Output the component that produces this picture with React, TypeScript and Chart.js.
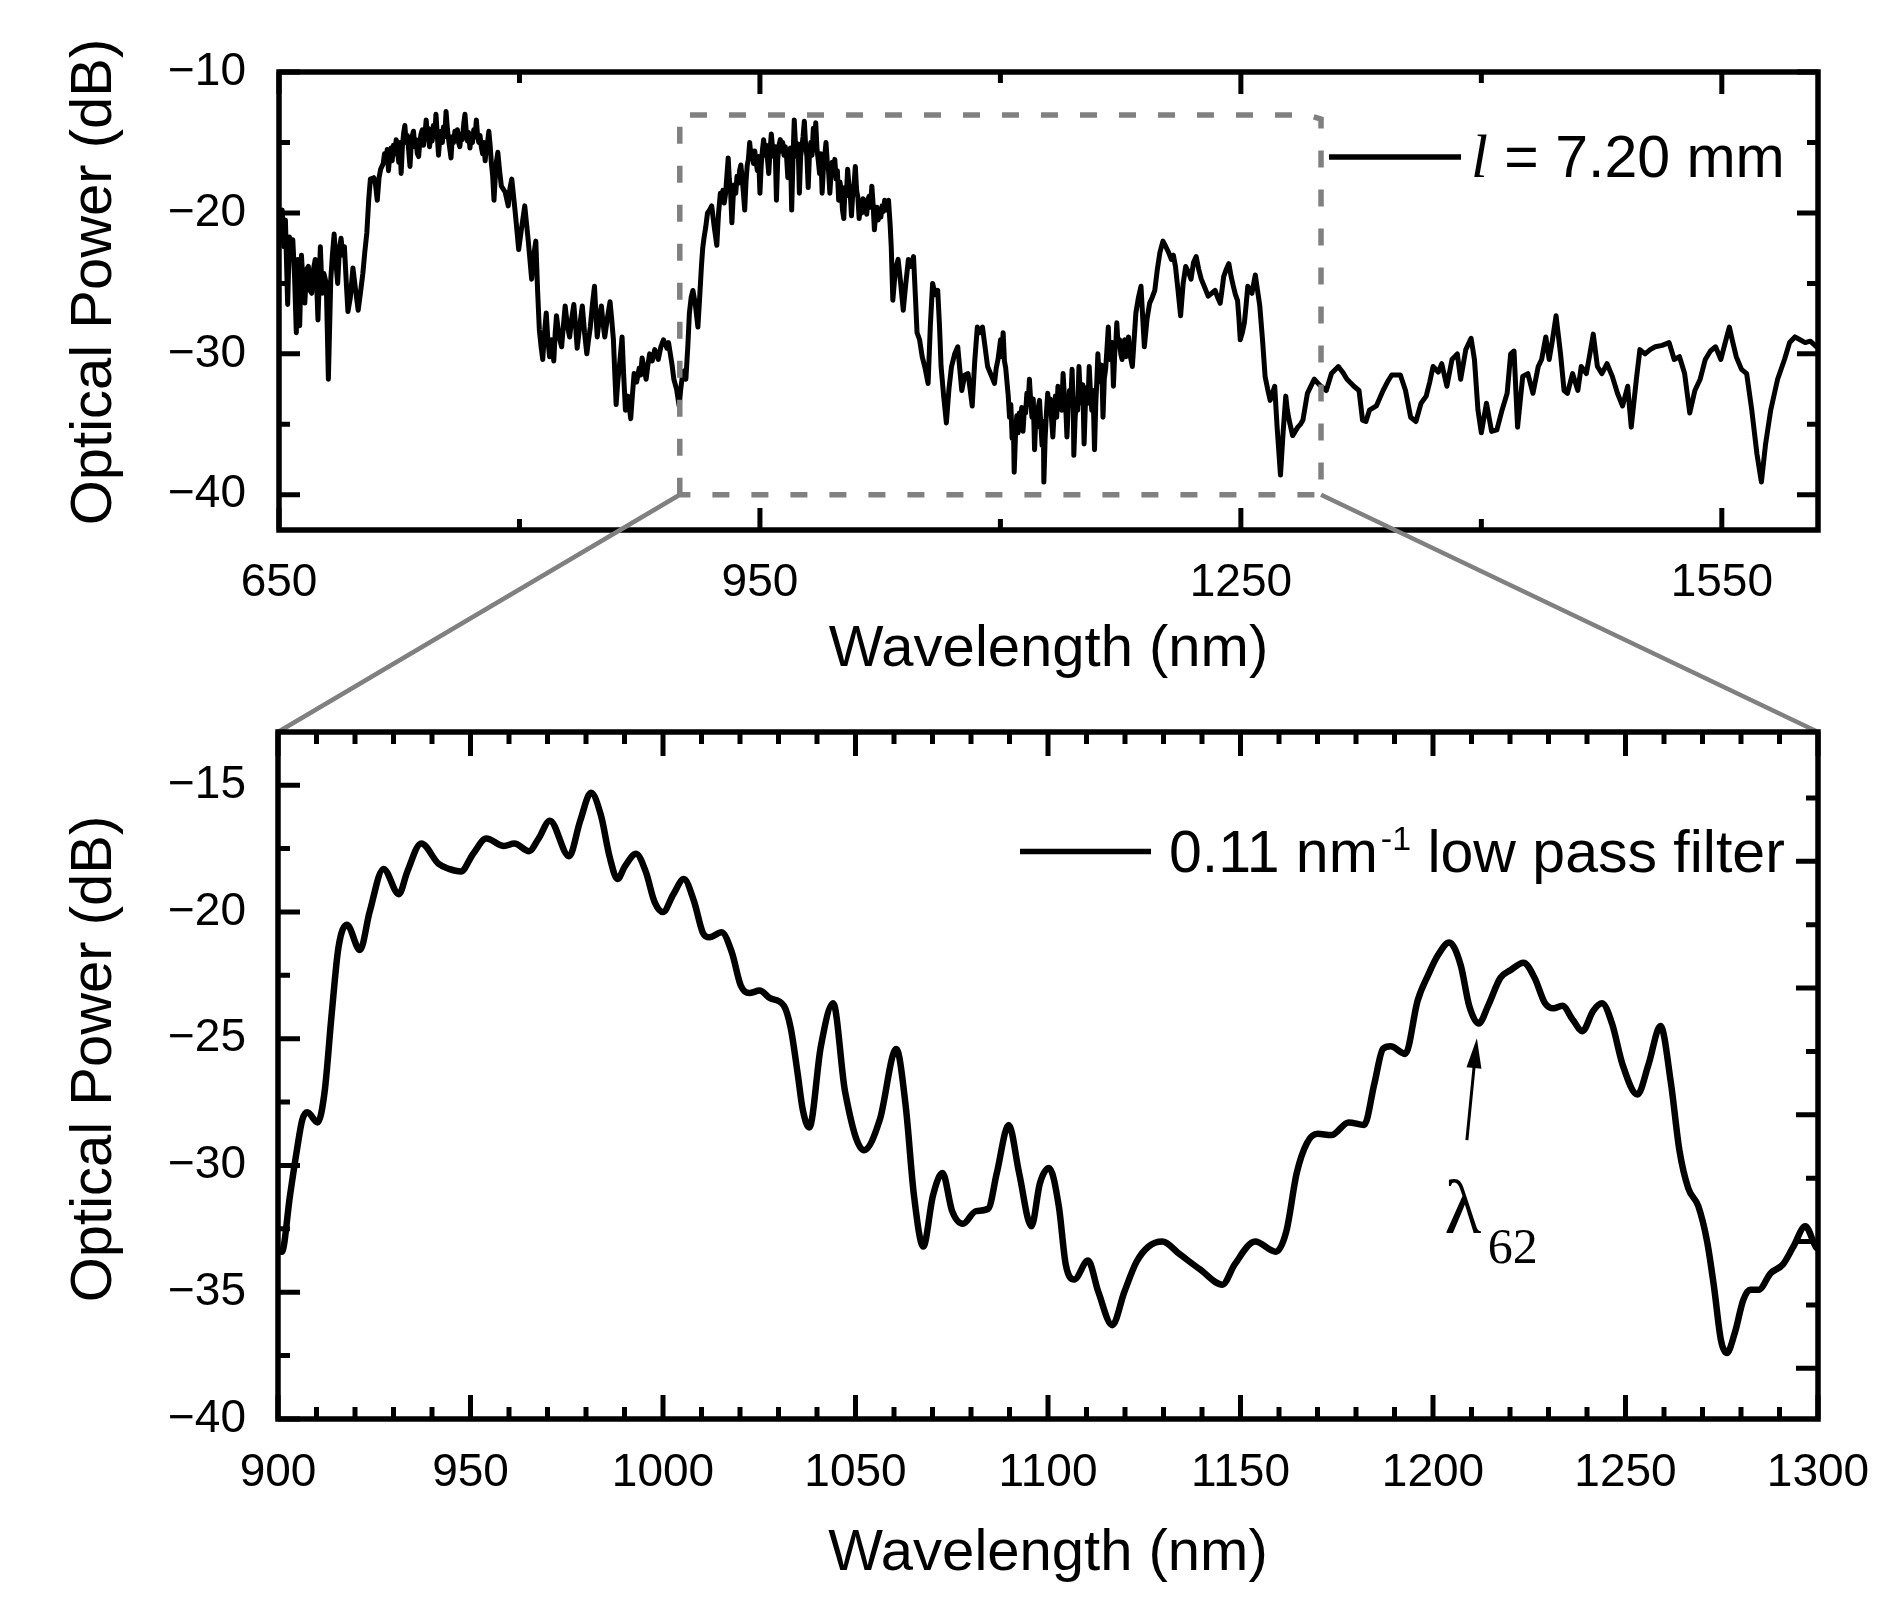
import React, { useEffect, useRef } from 'react';
import { Chart, registerables } from 'chart.js';

Chart.register(...registerables);

// ---------------- data ----------------
// Raw spectrum, l = 7.20 mm  [wavelength nm, optical power dB]
const overviewSpectrum: [number, number][] = [
  [650, -20.0], [651, -21.5], [652, -19.8], [653, -22.4], [654, -20.5], [655.4, -26.5], [656.5, -21.7], [657.5, -23.0],
  [658.6, -21.9], [659.7, -24.5], [660.8, -28.5], [661.8, -23.3], [662.9, -28.0], [664, -23.0], [665, -25.0], [666.1, -26.4],
  [667.2, -24.0], [668.3, -23.8], [669.3, -25.5], [670.4, -25.7], [671.5, -24.0], [672.6, -23.3], [673.5, -25.0], [674.3, -27.6],
  [675.8, -22.4], [676.9, -25.7], [678, -24.3], [679.5, -25.0], [680.8, -31.8], [682.3, -24.7], [683.3, -23.0], [684.4, -21.5],
  [685.5, -23.5], [686.6, -25.0], [687.7, -22.5], [688.7, -21.8], [689.8, -23.0], [690.8, -22.4], [692, -25.0], [693, -27.0],
  [694.5, -26.0], [696.1, -23.9], [697.8, -25.5], [699.4, -26.9], [701, -25.5], [702.3, -24.3], [703.5, -22.8], [704.8, -21.4],
  [706, -19.0], [707, -17.6], [709.1, -17.5], [710.2, -18.0], [711.3, -19.1], [712.4, -17.5], [713.4, -16.9],
  [715, -16.5], [715.8, -15.8], [716.7, -16.2], [717.5, -15.5], [718.3, -17.0], [719, -16.0], [719.8, -15.4], [720.6, -16.3],
  [721.4, -15.2], [722.2, -15.8], [723.1, -14.8], [723.9, -15.6], [724.7, -16.4], [725.5, -15.0], [726.2, -17.2], [727, -15.2],
  [727.8, -14.3], [728.5, -13.8], [729.3, -15.0], [730.1, -14.5], [730.9, -15.6], [731.7, -16.7], [732.5, -15.1], [733.2, -14.5],
  [733.9, -14.2], [734.7, -15.3], [735.5, -14.8], [736.3, -15.8], [737.1, -16.0], [737.9, -14.9], [738.6, -14.4], [739.4, -14.1],
  [740.2, -15.2], [741, -14.5], [741.8, -13.4], [742.6, -14.6], [743.3, -14.0], [743.9, -15.3], [744.7, -14.4], [745.5, -14.9],
  [746.3, -13.8], [747.1, -14.6], [747.9, -13.0], [748.7, -14.4], [749.5, -15.9], [750.3, -14.7], [751.1, -14.2], [751.9, -15.0],
  [752.6, -13.9], [753.4, -14.6], [754.2, -12.8], [755, -14.0], [755.8, -14.8], [756.6, -15.5], [757.3, -16.1], [758.1, -14.6],
  [758.9, -15.0], [759.7, -14.2], [760.5, -14.8], [761.3, -14.1], [762, -15.0], [762.8, -15.3], [763.6, -14.4], [764.4, -14.8],
  [765.2, -13.7], [766, -13.0], [766.8, -14.2], [767.6, -14.9], [768.3, -14.3], [769.1, -15.4], [769.9, -14.6], [770.7, -15.0],
  [771.5, -14.1], [772.3, -14.6], [773.1, -13.4], [773.8, -14.4], [774.6, -15.0], [775.4, -14.5], [776.2, -15.3], [777, -15.8],
  [777.8, -15.0], [778.6, -16.3], [779.3, -15.4], [780.1, -15.0], [780.9, -14.2], [781.7, -15.2], [782.5, -16.5], [783.3, -17.4],
  [784.1, -19.1], [784.9, -17.5], [785.7, -16.3], [786.5, -15.7],
  [787.6, -17.0], [788.7, -18.1], [791, -18.5], [793, -19.5],
  [794, -18.3], [795.2, -17.6], [797.4, -20.0], [799.5, -22.6], [801.4, -21.0], [803.3, -19.5], [805.5, -22.0], [807.6, -24.7],
  [808.9, -23.0], [810.2, -22.0], [811.3, -25.5], [812.4, -28.3], [813.5, -29.5], [814.5, -30.4], [815.6, -28.5], [816.7, -27.1],
  [817.7, -29.0], [818.8, -30.2], [820, -29.0], [821.4, -30.5], [822.3, -28.5], [823.1, -27.3], [824.7, -28.8], [826.3, -29.5],
  [827.4, -28.0], [828.5, -26.6], [829.9, -28.0], [831.3, -28.8], [832.6, -27.5], [833.9, -26.5], [835, -28.0], [836, -29.6],
  [837.6, -28.0], [839.2, -26.6], [840.6, -28.5], [842, -30.0], [843.1, -29.0], [844.2, -28.1], [845.5, -26.5], [846.8, -25.2],
  [847.6, -27.0], [848.5, -28.8], [849.8, -27.5], [851.1, -26.6], [852.1, -27.8], [853.2, -28.8], [854.8, -27.5], [856.5, -26.3],
  [857.5, -27.5], [858.6, -29.0], [859.5, -31.5], [860.3, -33.6], [861.3, -32.0], [862.3, -30.9], [863.2, -29.8], [864, -28.8],
  [865, -31.5], [866.1, -34.0], [867.7, -33.0], [869.4, -34.6], [870.4, -33.0], [871.5, -31.4], [873.1, -32.0], [874.7, -31.0],
  [875.6, -31.5], [876.5, -30.3], [877.7, -31.0], [879, -31.8], [880.1, -30.8], [881.2, -30.0], [882.8, -30.5], [884.4, -29.7],
  [885.5, -30.0], [886.6, -30.4], [888.2, -29.5], [889.8, -29.0], [890.9, -29.3], [892, -29.6], [893, -29.2], [894.1, -30.0],
  [895.2, -30.8], [896.3, -31.8], [898, -32.5], [899.6, -33.7], [900.6, -32.5], [901.7, -31.5], [902.8, -31.2], [903.8, -31.8],
  [905, -29.5], [906, -27.1], [907.1, -26.0], [908.2, -25.5], [909.7, -26.5], [911.3, -28.1], [912.4, -26.0], [913.5, -23.8],
  [914.3, -22.5], [915.2, -21.7], [916.2, -21.0], [917.3, -20.0], [918.6, -19.8], [919.9, -19.5], [921.5, -21.0], [923.1, -22.3],
  [924.2, -20.0],
  [925.3, -18.6], [926.1, -19.2], [926.9, -18.4], [927.7, -19.3], [928.5, -18.7], [929.3, -17.5], [930.2, -16.1], [930.9, -17.6],
  [931.7, -18.5], [932.5, -20.7], [933.3, -18.9], [934.1, -18.0], [934.9, -18.6], [935.7, -17.4], [936.5, -17.9], [937.3, -17.0],
  [938.1, -16.6], [938.9, -17.5], [939.7, -18.6], [940.5, -19.8], [941.3, -17.8], [942.1, -16.6], [942.8, -16.2], [943.6, -15.0],
  [944.4, -16.0], [945.2, -15.6], [946, -16.5], [946.8, -15.6], [947.6, -16.4], [948.4, -17.0], [949.2, -16.0], [950, -18.6],
  [950.8, -16.6], [951.5, -15.6], [952.3, -14.8], [953.1, -15.9], [953.9, -15.2], [954.7, -16.2], [955.5, -17.2], [956.3, -15.6],
  [957.1, -14.4], [957.9, -15.4], [958.7, -16.0], [959.5, -15.3], [960.3, -19.1], [961.1, -16.2], [961.9, -15.2], [962.7, -14.8],
  [963.5, -15.6], [964.2, -15.0], [965, -15.9], [965.8, -15.3], [966.6, -16.0], [967.4, -17.5], [968.2, -16.0], [969, -15.4],
  [969.8, -19.8], [970.6, -16.2], [971.4, -13.4], [972.2, -15.2], [973, -16.0], [973.8, -15.1], [974.6, -18.6], [975.4, -16.0],
  [976.1, -15.3], [976.9, -14.6], [977.7, -13.5], [978.5, -15.2], [979.3, -16.0], [980.1, -18.2], [980.9, -15.8], [981.7, -15.0],
  [982.5, -15.9], [983.3, -14.0], [984.1, -15.4], [984.8, -13.6], [985.6, -15.5], [986.4, -16.3], [987.2, -17.2], [988, -15.8],
  [988.8, -18.6], [989.6, -16.8], [990.4, -16.0], [991.2, -15.0], [992, -16.4], [992.8, -17.0], [993.6, -18.6], [994.4, -17.2],
  [995.1, -16.4], [995.9, -17.3], [996.7, -16.2], [997.5, -17.6], [998.3, -17.0], [999.1, -19.1], [999.9, -17.8], [1000.7, -18.4],
  [1001.5, -19.8], [1002.3, -20.4], [1003.1, -18.2], [1003.9, -18.8], [1004.7, -16.9], [1005.5, -18.0], [1006.3, -18.6], [1007.1, -20.2],
  [1007.9, -18.6], [1008.7, -18.0], [1009.5, -16.7], [1010.3, -18.4], [1011.1, -18.9], [1011.9, -20.4], [1012.7, -19.3], [1013.5, -20.0],
  [1014.3, -19.0], [1015, -19.8], [1015.8, -19.2], [1016.6, -20.1], [1017.4, -19.0], [1018.2, -18.8], [1019, -19.6], [1019.8, -18.1],
  [1020.6, -19.4], [1021.4, -21.2], [1022.2, -20.1], [1023, -19.6], [1023.8, -20.5], [1024.6, -19.8], [1025.4, -20.3], [1026.2, -19.5],
  [1027, -19.9], [1027.8, -19.1], [1028.6, -19.8], [1029.4, -19.3], [1030.2, -19.1],
  [1031.2, -20.8], [1031.9, -22.4], [1032.9, -26.2],
  [1034.5, -24.0], [1036.2, -23.3], [1037.8, -25.0], [1039.4, -26.9], [1041, -25.0], [1042.6, -23.3], [1044.2, -23.8], [1045.8, -23.1],
  [1047, -26.0], [1048, -28.5], [1049.6, -29.0], [1051.2, -30.2], [1053, -31.0], [1054.9, -32.1], [1056.3, -28.0], [1057.7, -25.0],
  [1059.3, -25.8], [1060.9, -25.5], [1062, -28.0], [1063, -30.9], [1064.6, -33.0], [1066.3, -34.9], [1067.9, -32.5], [1069.5, -30.9],
  [1071.5, -30.0], [1073.4, -29.5], [1074.6, -31.0], [1075.9, -32.6], [1077.8, -31.5], [1079.8, -31.4], [1081.1, -32.5], [1082.4, -33.7],
  [1084, -30.5], [1085.6, -28.1], [1087.2, -28.5], [1088.8, -28.1], [1090.4, -29.5], [1092, -30.9], [1094.2, -31.5], [1096.3, -32.1],
  [1097.4, -31.0], [1098.5, -30.4],
  [1100.1, -29.0], [1100.9, -30.2], [1101.7, -28.5], [1102.5, -30.5], [1103.3, -31.0], [1104.1, -32.0], [1104.9, -33.0], [1105.7, -34.5],
  [1106.5, -33.6], [1107.3, -36.0], [1108.1, -35.0], [1108.6, -38.4], [1109.4, -35.8], [1110.2, -34.4], [1111, -35.6], [1111.8, -34.2],
  [1112.5, -34.7], [1113.3, -33.8], [1114.1, -35.5], [1114.9, -34.0], [1115.7, -34.2], [1116.5, -32.8], [1117.3, -33.6], [1118.1, -31.8],
  [1118.9, -33.4], [1119.7, -34.5], [1120.5, -33.2], [1121.3, -36.8], [1122.1, -34.6], [1122.9, -35.2], [1123.6, -33.8], [1124.4, -33.3],
  [1125.2, -35.0], [1126, -36.5], [1126.8, -34.8], [1127.1, -39.1], [1127.9, -36.0], [1128.7, -34.2], [1129.5, -32.8], [1130.3, -34.0],
  [1131.1, -33.2], [1131.9, -34.6], [1132.7, -35.9], [1133.5, -34.2], [1134.3, -33.0], [1135.1, -34.5], [1135.9, -32.3], [1136.7, -33.8],
  [1137.5, -33.0], [1138.3, -34.0], [1139.1, -31.4], [1139.9, -33.0], [1140.7, -33.6], [1141.5, -35.9], [1142.3, -33.8], [1143.1, -32.6],
  [1143.9, -33.5], [1144.7, -31.1], [1145.5, -34.0], [1145.8, -37.2], [1146.6, -34.6], [1147.4, -33.2], [1148.2, -34.0], [1149, -30.9],
  [1149.8, -32.8], [1150.6, -33.5], [1151.4, -32.2], [1152.2, -36.4], [1153, -33.6], [1153.8, -32.4], [1154.6, -33.5], [1155.4, -30.9],
  [1156.2, -32.8], [1157, -34.0], [1157.8, -32.6], [1158.7, -36.8], [1159.5, -33.5], [1160.2, -31.8], [1160.8, -30.0], [1161.6, -31.6],
  [1162.4, -32.0], [1163.2, -30.8], [1164, -34.5], [1164.8, -31.8], [1165.7, -31.0], [1166.5, -29.6], [1167.3, -28.1], [1168.1, -30.4],
  [1168.9, -30.0], [1169.7, -29.2], [1170.5, -32.3], [1171.3, -30.0], [1172.1, -29.0], [1172.6, -27.8], [1173.4, -29.4], [1174.3, -29.0],
  [1175.1, -30.0], [1175.9, -30.4], [1176.7, -29.2], [1177.5, -29.0], [1178.3, -30.2], [1179.1, -29.5], [1179.9, -28.8], [1180.7, -30.0],
  [1182.3, -30.9], [1183.4, -29.0], [1184.5, -27.1], [1186.1, -26.0], [1187.7, -25.2], [1188.8, -27.5], [1189.8, -29.5], [1191.5, -27.5],
  [1193.1, -26.4], [1194.7, -26.0], [1196.3, -25.5], [1197.9, -24.0], [1199.5, -22.8], [1201.4, -22.0], [1203.2, -22.4], [1204.9, -22.8],
  [1206.6, -23.3], [1207.9, -23.0], [1209.2, -23.8], [1210.8, -25.5], [1212.4, -27.3], [1214, -25.0], [1215.6, -23.8], [1217.3, -24.2],
  [1218.9, -24.7], [1220.5, -23.5], [1222.1, -23.1], [1223.7, -24.0], [1225.3, -24.7], [1227.5, -25.3], [1229.6, -25.9], [1231.8, -25.7],
  [1233.9, -25.5], [1235.5, -26.0], [1237.1, -26.4], [1238.2, -25.5], [1239.3, -24.5], [1240.9, -24.0], [1242.5, -23.6], [1243.9, -24.5],
  [1245.3, -25.2], [1246.6, -25.8], [1247.9, -26.2], [1248.8, -27.5], [1249.6, -29.0], [1250.9, -28.5], [1252.2, -27.8], [1253.3, -26.5],
  [1254.3, -25.2], [1255.6, -25.5], [1256.9, -25.7], [1258, -25.0], [1259, -24.4], [1260.4, -25.5], [1261.8, -26.6], [1263.5, -29.0],
  [1265.1, -31.6], [1266.7, -32.5], [1268.3, -33.3], [1269.7, -32.8], [1271.1, -32.3], [1272.6, -35.2], [1274.7, -38.6], [1276.4, -35.5],
  [1278, -33.0], [1279, -34.0], [1280.1, -34.7], [1282.3, -35.8], [1283.9, -35.5], [1285.5, -35.2], [1287.2, -35.0], [1288.7, -34.7],
  [1291.5, -32.8], [1295.8, -31.8], [1299, -32.2], [1303.3, -32.6], [1306.5, -31.4], [1310.8, -30.9], [1313.5, -31.3], [1316.2, -31.8],
  [1320.5, -32.3], [1323.7, -32.6], [1325.9, -34.7], [1328, -34.8], [1330.2, -34.0], [1334.5, -33.7], [1338.7, -32.6], [1341.4, -32.0],
  [1344.1, -31.5], [1349.5, -31.5], [1352.7, -32.6], [1355.9, -34.5], [1359.2, -34.8], [1362.4, -33.5], [1365.6, -33.0], [1367.8, -32.0],
  [1369.9, -30.9], [1373.1, -31.3], [1375.3, -30.7], [1378.5, -32.3], [1381.7, -30.4], [1385, -30.0], [1387.1, -31.8], [1390.3, -29.7],
  [1393.6, -28.9], [1395.7, -30.4], [1397.9, -34.0], [1400, -35.6], [1403.2, -33.5], [1406.4, -35.5], [1409.7, -35.4], [1412.9, -34.0],
  [1416.1, -32.8], [1418.3, -30.0], [1420.4, -29.8], [1422.6, -35.2], [1425.8, -31.6], [1429, -31.4], [1432.2, -32.8], [1435.5, -30.9],
  [1437.6, -30.4], [1440.2, -28.8], [1442.3, -30.4], [1444.1, -29.2], [1446.6, -27.3], [1449.4, -30.0], [1451.6, -32.6], [1453.7, -32.8],
  [1456.9, -31.4], [1460.2, -32.6], [1462.3, -30.9], [1465.5, -31.4], [1467.7, -30.0], [1469.8, -28.6], [1472.4, -30.9], [1475.2, -31.4],
  [1478.4, -30.7], [1481.7, -31.6], [1484.9, -32.8], [1488.1, -33.7], [1491.3, -32.3], [1493.5, -35.2], [1496.7, -31.8], [1498.9, -29.7],
  [1502.1, -30.0], [1505.3, -29.7], [1508.5, -29.5], [1512.8, -29.4], [1517.1, -29.2], [1520.3, -30.4], [1523.6, -30.2], [1526.8, -31.4],
  [1530, -34.2], [1533.2, -32.6], [1536.5, -31.8], [1539.7, -30.4], [1542.9, -29.8], [1546.1, -29.5], [1549.4, -30.4], [1552.6, -29.0],
  [1554.7, -28.1], [1556.9, -29.2], [1559, -30.2], [1562.3, -31.1], [1565.5, -31.4], [1568.7, -34.0], [1571.9, -37.1], [1574.7, -39.1],
  [1577.3, -36.4], [1580.5, -34.0], [1584.8, -31.8], [1589.1, -30.4], [1592.3, -29.2], [1595.6, -28.8], [1598.8, -29.0], [1602, -29.2],
  [1605.2, -29.1], [1609.1, -29.5], [1610, -29.5],
];

// 0.11 nm^-1 low pass filtered spectrum  [wavelength nm, optical power dB]
const filteredSpectrum: [number, number][] = [
  [900, -33.3], [901, -33.4], [903.1, -31.2], [904.9, -29.4], [906.3, -28.2], [907.6, -27.9], [910.3, -28.3], [912.1, -27.1],
  [913.9, -24.1], [915.7, -21.4], [917.9, -20.5], [921.3, -21.5], [923.8, -20.0], [927.4, -18.3], [931.4, -19.3], [933.6, -18.4],
  [937.2, -17.3], [941.7, -18.1], [944.4, -18.3], [947.5, -18.4], [950.7, -17.7], [954.1, -17.1], [958.7, -17.4], [961.4, -17.3],
  [965.2, -17.6], [967.7, -17.1], [970.6, -16.4], [975.6, -17.8], [978.5, -16.4], [981.3, -15.3], [983.9, -16.2], [986.1, -17.8],
  [988.2, -18.7], [990.1, -18.2], [993.0, -17.7], [995.5, -18.4], [997.8, -19.6], [1000, -20.0], [1002.7, -19.3], [1005.4, -18.7],
  [1008.1, -19.6], [1010.3, -20.8], [1012.1, -21.0], [1015.2, -20.8], [1017.9, -21.6], [1020.2, -22.9], [1022.4, -23.2], [1025.1, -23.1],
  [1027.8, -23.4], [1031.4, -23.7], [1033.2, -24.6], [1035, -26.4], [1036.3, -27.8], [1038.0, -28.5], [1041, -25.3], [1044.2, -23.6],
  [1047.3, -27.1], [1052.2, -29.4], [1056.3, -28.2], [1060.6, -25.4], [1063, -27.6], [1065.2, -31.2], [1067.6, -33.2], [1070.1, -31.2],
  [1072.6, -30.3], [1075.1, -31.8], [1077.9, -32.3], [1081.3, -31.8], [1084.5, -31.7], [1086.7, -30.3], [1089.8, -28.4], [1092.5, -30.3],
  [1095.7, -32.4], [1097.9, -30.7], [1100.3, -30.1], [1102.8, -31.6], [1104.6, -33.9], [1106.8, -34.5], [1110.4, -33.75], [1113.1, -35.0],
  [1116.7, -36.3], [1119.8, -35.0], [1123, -33.8], [1126.1, -33.2], [1129.7, -33.0], [1134.2, -33.5], [1139.5, -34.1], [1145.3, -34.7],
  [1148.5, -33.9], [1153.8, -33.0], [1159.2, -33.4], [1161.9, -32.6], [1164.6, -30.3], [1167.3, -29.1], [1170, -28.75], [1173.6, -28.8],
  [1178.1, -28.3], [1182.1, -28.4], [1184.8, -26.75], [1187, -25.4], [1189, -25.3], [1192.8, -25.6], [1196, -23.5], [1198.7, -22.5],
  [1201.3, -21.7], [1204.2, -21.2], [1207.2, -22.1], [1209.4, -23.7], [1211.9, -24.4], [1214.3, -23.7], [1217.5, -22.6], [1220.1, -22.3],
  [1223.5, -22.0], [1226.4, -22.6], [1229.1, -23.6], [1231.3, -23.8], [1233.6, -23.7], [1236.3, -24.25], [1238.8, -24.7], [1241.6, -23.9],
  [1243.9, -23.6], [1246.5, -24.4], [1249.2, -26.0], [1253.1, -27.2], [1256, -26.0], [1259.1, -24.5], [1261.8, -26.75], [1264, -29.4],
  [1266.3, -30.9], [1268.9, -31.6], [1271.2, -33.0], [1273, -34.8], [1274.8, -36.9], [1276.3, -37.4], [1278.4, -36.6], [1280.6, -35.3],
  [1282.4, -34.9], [1284.6, -34.9], [1287.7, -34.25], [1290.9, -33.9], [1293.6, -33.2], [1296.7, -32.4], [1299.4, -33.2], [1300, -33.3],
];

// axes
const overviewRangeX = [650, 1610];
const overviewRangeY = [-42.5, -10];
const overviewXLabeled = [650, 950, 1250, 1550];
const overviewXMinor = [800, 1100, 1400];
const overviewYLabeled = [-10, -20, -30, -40];
const overviewYMinor = [-15, -25, -35];

const zoomRangeX = [900, 1300];
const zoomRangeY = [-40, -12.9];
const zoomXLabeled = [900, 950, 1000, 1050, 1100, 1150, 1200, 1250, 1300];
const zoomXMinor = [
  910, 920, 930, 940, 960, 970, 980, 990, 1010, 1020, 1030, 1040, 1060, 1070, 1080, 1090,
  1110, 1120, 1130, 1140, 1160, 1170, 1180, 1190, 1210, 1220, 1230, 1240, 1260, 1270, 1280, 1290,
];
const zoomYLabeled = [-15, -20, -25, -30, -35, -40];
const zoomYMinor = [-17.5, -22.5, -27.5, -32.5, -37.5];
const zoomYRightMajor = [-18, -23, -28, -33, -38];
const zoomYRightMinor = [-15.5, -20.5, -25.5, -30.5, -35.5];

// zoom window marked on the overview [x1, x2, yBottom, yTop]
const zoomWindow = [900, 1300, -40, -13.05];

// texts
const xTitle = 'Wavelength (nm)';
const yTitle = 'Optical Power (dB)';
const overviewLegendSymbol = 'l';
const overviewLegendText = ' = 7.20 mm';
const zoomLegendParts = ['0.11 nm', '-1', ' low pass filter'];
const modeLabel = ['\u03bb', '62'];
// arrow: [tail nm, tail dB, tip nm, tip dB]
const modeArrow = [1208.8, -29.0, 1211.4, -24.98];

// ---------------- helpers ----------------
const SANS = "'Liberation Sans', Arial, Helvetica, sans-serif";
const SERIF = "'Liberation Serif', 'Times New Roman', Times, serif";
const GRAY = '#808080';
const TICK_FONT = 46;

const TOP_CANVAS_Y = 0;
const TOP_CANVAS_H = 700;
const BOT_CANVAS_Y = 480;
const BOT_CANVAS_H = 1123;
const W = 1899;

Chart.defaults.font.family = SANS;

const fmt = (v: number) => (v < 0 ? '\u2212' + Math.abs(v) : String(v));

function frameTicksPlugin(id: string, spec: any) {
  return {
    id,
    afterDatasetsDraw(chart: any) {
      const { ctx, chartArea: a, scales } = chart;
      const x = scales.x;
      const y = scales.y;
      ctx.save();
      ctx.strokeStyle = '#000';
      ctx.lineCap = 'butt';
      ctx.lineWidth = 5;
      ctx.beginPath();
      const vx = (vals: number[], len: number) => {
        for (const v of vals) {
          const p = x.getPixelForValue(v);
          ctx.moveTo(p, a.bottom);
          ctx.lineTo(p, a.bottom - len);
          ctx.moveTo(p, a.top);
          ctx.lineTo(p, a.top + len);
        }
      };
      const hy = (vals: number[], len: number, left: boolean, right: boolean) => {
        for (const v of vals) {
          const p = y.getPixelForValue(v);
          if (left) {
            ctx.moveTo(a.left, p);
            ctx.lineTo(a.left + len, p);
          }
          if (right) {
            ctx.moveTo(a.right, p);
            ctx.lineTo(a.right - len, p);
          }
        }
      };
      vx(spec.xMajor, spec.xMajorLen);
      vx(spec.xMinor, spec.xMinorLen);
      hy(spec.yMajor, spec.yMajorLen, true, !spec.yRightMajor);
      hy(spec.yMinor, spec.yMinorLen, true, !spec.yRightMinor);
      if (spec.yRightMajor) hy(spec.yRightMajor, spec.yMajorLen, false, true);
      if (spec.yRightMinor) hy(spec.yRightMinor, spec.yMinorLen, false, true);
      ctx.stroke();
      ctx.lineWidth = 5.5;
      ctx.lineJoin = 'miter';
      ctx.strokeRect(a.left, a.top, a.right - a.left, a.bottom - a.top);
      ctx.restore();
    },
  };
}

function titlesPlugin(id: string, spec: any) {
  return {
    id,
    afterDraw(chart: any) {
      const { ctx, chartArea: a } = chart;
      ctx.save();
      ctx.fillStyle = '#000';
      ctx.font = `${spec.size}px ${SANS}`;
      ctx.textAlign = 'center';
      ctx.textBaseline = 'alphabetic';
      ctx.fillText(xTitle, (a.left + a.right) / 2, a.bottom + spec.xBaseline);
      ctx.translate(spec.yBaselineX, a.top + spec.yCenter);
      ctx.rotate(-Math.PI / 2);
      ctx.fillText(yTitle, 0, 0);
      ctx.restore();
    },
  };
}

const overviewDecor = {
  id: 'overviewDecor',
  afterDatasetsDraw(chart: any) {
    const { ctx, chartArea: a, scales } = chart;
    const x = scales.x;
    const y = scales.y;
    const [x1, x2, yb, yt] = zoomWindow;
    const L = x.getPixelForValue(x1);
    const R = x.getPixelForValue(x2);
    const B = y.getPixelForValue(yb);
    const T = y.getPixelForValue(yt);
    ctx.save();
    ctx.strokeStyle = GRAY;
    ctx.lineWidth = 5.5;
    ctx.setLineDash([17, 22]);
    ctx.beginPath();
    ctx.moveTo(L, B);
    ctx.lineTo(L, T);
    ctx.lineTo(R - 14, T);
    ctx.lineTo(R, T + 4);
    ctx.lineTo(R, B);
    ctx.lineTo(L, B);
    ctx.stroke();
    ctx.restore();

    // legend
    ctx.save();
    ctx.strokeStyle = '#000';
    ctx.lineWidth = 5.5;
    ctx.beginPath();
    ctx.moveTo(a.right - 489, a.top + 85);
    ctx.lineTo(a.right - 357, a.top + 85);
    ctx.stroke();
    ctx.fillStyle = '#000';
    ctx.textBaseline = 'alphabetic';
    ctx.textAlign = 'left';
    let tx = a.right - 347;
    const by = a.top + 105;
    ctx.font = `italic 61px ${SERIF}`;
    ctx.fillText(overviewLegendSymbol, tx, by);
    tx += ctx.measureText(overviewLegendSymbol).width;
    ctx.font = `59px ${SANS}`;
    ctx.fillText(overviewLegendText, tx, by);
    ctx.restore();
  },
};

function zoomDecor(getOverview: () => any) {
  return {
    id: 'zoomDecor',
    afterDatasetsDraw(chart: any) {
      const { ctx, chartArea: a, scales } = chart;
      const x = scales.x;
      const y = scales.y;
      // connectors from the overview window to this panel
      const ov = getOverview();
      if (ov) {
        const [x1, x2, yb] = zoomWindow;
        const dy = TOP_CANVAS_Y - BOT_CANVAS_Y;
        const lx = ov.scales.x.getPixelForValue(x1);
        const rx = ov.scales.x.getPixelForValue(x2);
        const by = ov.scales.y.getPixelForValue(yb) + dy;
        ctx.save();
        ctx.strokeStyle = GRAY;
        ctx.lineWidth = 4.5;
        ctx.beginPath();
        ctx.moveTo(lx, by);
        ctx.lineTo(a.left, a.top);
        ctx.moveTo(rx, by);
        ctx.lineTo(a.right, a.top);
        ctx.stroke();
        ctx.restore();
      }
      // legend
      ctx.save();
      ctx.strokeStyle = '#000';
      ctx.lineWidth = 5.5;
      ctx.beginPath();
      ctx.moveTo(a.right - 798, a.top + 119.5);
      ctx.lineTo(a.right - 667, a.top + 119.5);
      ctx.stroke();
      ctx.fillStyle = '#000';
      ctx.textBaseline = 'alphabetic';
      ctx.textAlign = 'left';
      let tx = a.right - 649;
      const by = a.top + 140;
      ctx.font = `59px ${SANS}`;
      ctx.fillText(zoomLegendParts[0], tx, by);
      tx += ctx.measureText(zoomLegendParts[0]).width + 3;
      ctx.font = `34px ${SANS}`;
      ctx.fillText(zoomLegendParts[1], tx, by - 22);
      tx += ctx.measureText(zoomLegendParts[1]).width;
      ctx.font = `59px ${SANS}`;
      ctx.fillText(zoomLegendParts[2], tx, by);
      ctx.restore();

      // lambda_62 annotation with arrow
      const [t0, d0, t1, d1] = modeArrow;
      const ax0 = x.getPixelForValue(t0);
      const ay0 = y.getPixelForValue(d0);
      const ax1 = x.getPixelForValue(t1);
      const ay1 = y.getPixelForValue(d1);
      const ang = Math.atan2(ay1 - ay0, ax1 - ax0);
      const headLen = 30;
      const headHalf = 7.5;
      ctx.save();
      ctx.strokeStyle = '#000';
      ctx.fillStyle = '#000';
      ctx.lineWidth = 3;
      ctx.beginPath();
      ctx.moveTo(ax0, ay0);
      ctx.lineTo(ax1 - Math.cos(ang) * headLen * 0.8, ay1 - Math.sin(ang) * headLen * 0.8);
      ctx.stroke();
      ctx.beginPath();
      ctx.moveTo(ax1, ay1);
      const bx = ax1 - Math.cos(ang) * headLen;
      const byy = ay1 - Math.sin(ang) * headLen;
      ctx.lineTo(bx + Math.sin(ang) * headHalf, byy - Math.cos(ang) * headHalf);
      ctx.lineTo(bx - Math.sin(ang) * headHalf, byy + Math.cos(ang) * headHalf);
      ctx.closePath();
      ctx.fill();
      ctx.textBaseline = 'alphabetic';
      ctx.textAlign = 'left';
      ctx.font = `76px ${SERIF}`;
      ctx.fillText(modeLabel[0], x.getPixelForValue(1203.0), y.getPixelForValue(-32.65));
      ctx.font = `50px ${SERIF}`;
      ctx.fillText(modeLabel[1], x.getPixelForValue(1214.2), y.getPixelForValue(-33.83));
      ctx.restore();
    },
  };
}

function baseScales(o: any) {
  return {
    x: {
      type: 'linear',
      min: o.xRange[0],
      max: o.xRange[1],
      grid: { display: false },
      border: { display: false },
      afterBuildTicks: (s: any) => {
        s.ticks = o.xLabeled.map((v: number) => ({ value: v }));
      },
      afterFit: (s: any) => {
        s.height = o.xHeight;
      },
      ticks: {
        color: '#000',
        font: { size: TICK_FONT, family: SANS },
        padding: o.xPad,
        maxRotation: 0,
        autoSkip: false,
        callback: (v: any) => fmt(Number(v)),
      },
    },
    y: {
      type: 'linear',
      min: o.yRange[0],
      max: o.yRange[1],
      grid: { display: false },
      border: { display: false },
      afterBuildTicks: (s: any) => {
        s.ticks = o.yLabeled.map((v: number) => ({ value: v }));
      },
      afterFit: (s: any) => {
        s.width = o.yWidth;
      },
      ticks: {
        color: '#000',
        font: { size: TICK_FONT, family: SANS },
        padding: o.yPad,
        autoSkip: false,
        callback: (v: any) => fmt(Number(v)),
      },
    },
  };
}

export default function App() {
  const topRef = useRef<HTMLCanvasElement>(null);
  const botRef = useRef<HTMLCanvasElement>(null);

  useEffect(() => {
    if (!topRef.current || !botRef.current) return;
    const overview: any = new Chart(topRef.current, {
      type: 'line',
      data: {
        datasets: [
          {
            data: overviewSpectrum.map(([x, y]) => ({ x, y })),
            borderColor: '#000',
            borderWidth: 5,
            pointRadius: 0,
            tension: 0,
            fill: false,
            borderJoinStyle: 'round',
          },
        ],
      },
      options: {
        responsive: false,
        animation: false,
        devicePixelRatio: 1,
        layout: { padding: { left: 0, top: 72, right: W - 1818, bottom: 0 } },
        plugins: { legend: { display: false }, tooltip: { enabled: false } },
        scales: baseScales({
          xRange: overviewRangeX,
          yRange: overviewRangeY,
          xLabeled: overviewXLabeled,
          yLabeled: overviewYLabeled,
          xHeight: TOP_CANVAS_H - 530,
          yWidth: 279,
          xPad: 18,
          yPad: 25,
        }),
      } as any,
      plugins: [
        overviewDecor,
        frameTicksPlugin('overviewFrame', {
          xMajor: overviewXLabeled,
          xMinor: overviewXMinor,
          yMajor: overviewYLabeled,
          yMinor: overviewYMinor,
          xMajorLen: 22,
          xMinorLen: 11,
          yMajorLen: 21,
          yMinorLen: 11,
        }),
        titlesPlugin('overviewTitles', { size: 58, xBaseline: 136, yBaselineX: 111, yCenter: 210 }),
      ],
    } as any);

    const zoom: any = new Chart(botRef.current, {
      type: 'line',
      data: {
        datasets: [
          {
            data: filteredSpectrum.map(([x, y]) => ({ x, y })),
            borderColor: '#000',
            borderWidth: 6.5,
            pointRadius: 0,
            cubicInterpolationMode: 'monotone',
            fill: false,
            borderJoinStyle: 'round',
            borderCapStyle: 'round',
          },
        ],
      },
      options: {
        responsive: false,
        animation: false,
        devicePixelRatio: 1,
        layout: { padding: { left: 0, top: 732 - BOT_CANVAS_Y, right: W - 1818, bottom: 0 } },
        plugins: { legend: { display: false }, tooltip: { enabled: false } },
        scales: baseScales({
          xRange: zoomRangeX,
          yRange: zoomRangeY,
          xLabeled: zoomXLabeled,
          yLabeled: zoomYLabeled,
          xHeight: BOT_CANVAS_Y + BOT_CANVAS_H - 1419,
          yWidth: 278,
          xPad: 19,
          yPad: 24,
        }),
      } as any,
      plugins: [
        zoomDecor(() => overview),
        frameTicksPlugin('zoomFrame', {
          xMajor: zoomXLabeled,
          xMinor: zoomXMinor,
          yMajor: zoomYLabeled,
          yMinor: zoomYMinor,
          yRightMajor: zoomYRightMajor,
          yRightMinor: zoomYRightMinor,
          xMajorLen: 24,
          xMinorLen: 12,
          yMajorLen: 22,
          yMinorLen: 12,
        }),
        titlesPlugin('zoomTitles', { size: 58, xBaseline: 151, yBaselineX: 111, yCenter: 327 }),
      ],
    } as any);

    return () => {
      zoom.destroy();
      overview.destroy();
    };
  }, []);

  return (
    <div
      style={{
        position: 'absolute',
        left: 0,
        top: 0,
        width: W,
        height: 1603,
        overflow: 'hidden',
        background: '#fff',
      }}
    >
      <canvas
        ref={topRef}
        width={W}
        height={TOP_CANVAS_H}
        style={{ position: 'absolute', left: 0, top: TOP_CANVAS_Y, width: W, height: TOP_CANVAS_H }}
      />
      <canvas
        ref={botRef}
        width={W}
        height={BOT_CANVAS_H}
        style={{ position: 'absolute', left: 0, top: BOT_CANVAS_Y, width: W, height: BOT_CANVAS_H }}
      />
    </div>
  );
}
